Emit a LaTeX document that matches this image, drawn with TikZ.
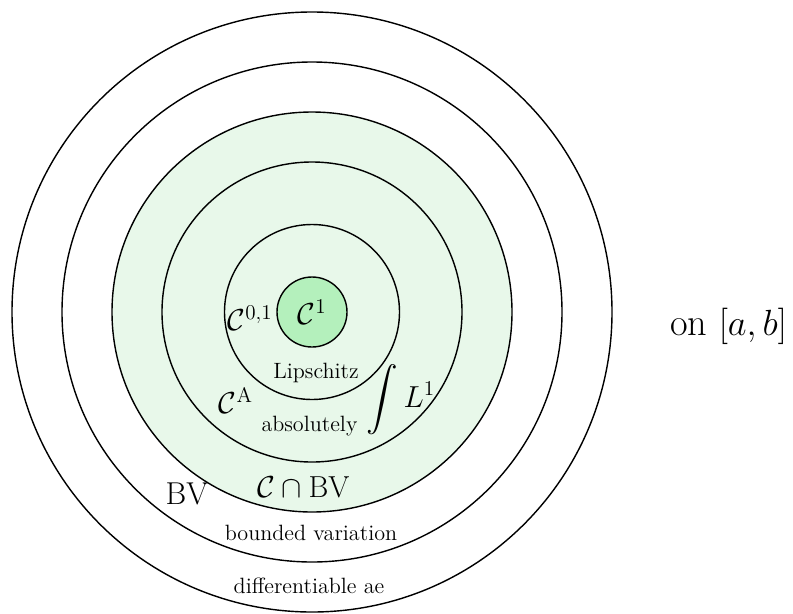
\documentclass[tikz,border=0pt]{standalone}
\usepackage{amsmath}
\usepackage{amssymb}
\usepackage{tikz}
\definecolor{palegreen}{RGB}{232,248,234}
\definecolor{midgreen}{RGB}{180,240,188}
\tikzset{
    ring/.style={thick},
    set name/.style={font=\fontsize{18}{22}\selectfont},
    set words/.style={font=\fontsize{12.6}{15}\selectfont}
}

\begin{document}
\begin{tikzpicture}

    \useasboundingbox (-6.24,-6.02) rectangle (9.62,6.24);

    \fill[palegreen] (0,0) circle (4);
    \fill[midgreen] (0,0) circle (0.7);
    \foreach \r in {0.7, 1.75, 3, 4, 5, 6}
        \draw[ring] (0,0) circle (\r);

    \node[set name] (c1) at (0,0) {$\mathcal{C}^1$};
    \node[set name] (lip) at (-1.24,-0.12) {$\mathcal{C}^{0,1}$};
    \node[set words] (lipw) at (0.08,-1.22) {Lipschitz};
    \node[set name] (ac) at (-1.52,-1.78) {$\mathcal{C}^{\mathrm{A}}$};
    \node[set name] (int) at (1.78,-1.76) {$\displaystyle\int L^1$};
    \node[set words] (acw) at (-0.05,-2.28) {absolutely};
    \node[set name] (cbv) at (-0.17,-3.5) {$\mathcal{C}\cap\mathrm{BV}$};
    \node[set name] (bv) at (-2.5,-3.64) {BV};
    \node[set words] (bvw) at (-0.02,-4.42) {bounded variation};
    \node[set words] (ae) at (-0.06,-5.48) {differentiable ae};

    \node[font=\fontsize{21.8}{26}\selectfont] (dom) at (8.33,-0.29) {on $[a,b]$};

\end{tikzpicture}
\end{document}
